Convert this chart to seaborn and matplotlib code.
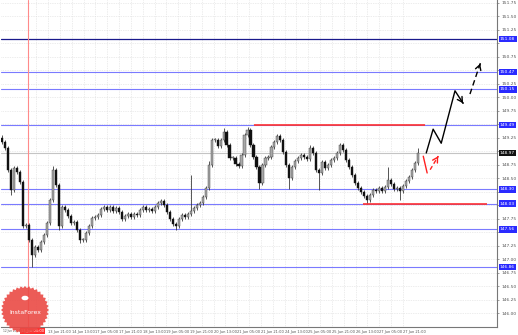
import numpy as np
import pandas as pd
import matplotlib
matplotlib.use("Agg")
import matplotlib.pyplot as plt
import matplotlib.transforms as mtrans
from matplotlib.patches import Polygon, Circle
import seaborn as sns

# ---------------- data ----------------
closes = [149.17, 149.06, 148.66, 148.29, 148.69, 148.62, 148.43, 147.62, 147.64, 147.36,
          147.08, 147.23, 147.18, 147.32, 147.45, 147.67, 148.10, 148.66, 148.38, 147.62,
          147.97, 147.92, 147.80, 147.67, 147.69, 147.55, 147.36, 147.36, 147.49, 147.62,
          147.77, 147.79, 147.82, 147.93, 147.97, 147.92, 147.97, 147.90, 147.95, 147.88,
          147.75, 147.80, 147.84, 147.79, 147.84, 147.82, 147.92, 147.97, 147.92, 147.93,
          147.90, 147.97, 148.04, 148.08, 148.01, 147.88, 147.75, 147.66, 147.62, 147.75,
          147.82, 147.79, 147.84, 147.90, 147.95, 148.01, 148.04, 148.16, 148.32, 148.75,
          149.21, 149.21, 149.10, 149.21, 149.36, 149.12, 148.88, 148.88, 148.77, 148.73,
          148.93, 149.30, 149.40, 149.12, 148.90, 148.71, 148.41, 148.75, 148.88, 148.90,
          149.08, 149.17, 149.28, 149.21, 148.99, 148.75, 148.51, 148.71, 148.82, 148.88,
          148.93, 148.90, 148.86, 149.06, 148.97, 148.66, 148.60, 148.80, 148.69, 148.75,
          148.84, 148.88, 148.97, 149.12, 149.03, 148.84, 148.71, 148.56, 148.41, 148.32,
          148.25, 148.17, 148.10, 148.19, 148.29, 148.27, 148.32, 148.27, 148.34, 148.47,
          148.40, 148.30, 148.32, 148.27, 148.36, 148.45, 148.53, 148.66, 148.78, 148.97]
first_open = 149.25
wick = 0.035
spike_highs = {0: 149.30, 17: 148.73, 63: 148.56, 74: 149.43, 82: 149.45, 92: 149.33,
               113: 149.15, 129: 148.71, 139: 149.06, 69: 148.82, 103: 149.12}
spike_lows = {3: 148.20, 10: 146.86, 19: 147.55, 58: 147.55, 86: 148.30, 96: 148.30,
              106: 148.29, 122: 148.03, 133: 148.10, 26: 147.30}

levels = [151.08, 150.47, 150.15, 149.49, 148.30, 148.03, 147.56, 146.86]
level_labels = ["151.08", "150.47", "150.15", "149.49", "148.30", "148.03", "147.56", "146.86"]

resist_level, resist_span = 149.49, (84.3, 141.3)
support_level, support_span = 148.03, (120.7, 162.0)
vline_x = 8.67

forecast_x = [141.7, 144.0, 146.7, 151.3, 154.0]
forecast_y = [148.97, 149.41, 149.15, 150.12, 149.89]
forecast2_x = [156.3, 160.0]
forecast2_y = [150.06, 150.67]
red_x = [140.7, 142.0]
red_y = [148.91, 148.60]
red2_x = [143.0, 145.7]
red2_y = [148.66, 148.91]

price_ticks = [146.00 + 0.25 * k for k in range(24)]
time_labels = ["13 Jun 21:00", "14 Jun 13:00", "17 Jun 05:00", "17 Jun 21:00", "18 Jun 13:00",
               "19 Jun 05:00", "19 Jun 21:00", "20 Jun 13:00", "21 Jun 05:00", "21 Jun 21:00",
               "24 Jun 13:00", "25 Jun 05:00", "25 Jun 21:00", "26 Jun 13:00", "27 Jun 05:00",
               "27 Jun 21:00"]
time_pos = [15.4 + 7.9 * k for k in range(len(time_labels))]

# ---------------- frame ----------------
n = len(closes)
opens = [first_open] + closes[:-1]
highs = [spike_highs.get(i, max(o, c) + wick) for i, (o, c) in enumerate(zip(opens, closes))]
lows = [spike_lows.get(i, min(o, c) - wick) for i, (o, c) in enumerate(zip(opens, closes))]
df = pd.DataFrame({"i": np.arange(n), "open": opens, "close": closes, "high": highs, "low": lows})

sns.set_style("white")
plt.rcParams["font.family"] = ["DejaVu Sans"]

fig = plt.figure(figsize=(5.18, 3.35), dpi=100)
W, H = 518, 335
ax = fig.add_axes([1 / W, 8 / H, 496 / W, 327 / H])
ax.set_xlim(-0.33, 165.33)
ax.set_ylim(145.75, 151.80)

# grid
for tp in time_pos:
    ax.axvline(tp, color="#dadada", lw=0.5, ls=(0, (1, 1.5)), zorder=0)
    ax.axvline(tp - 3.95, color="#dadada", lw=0.5, ls=(0, (1, 1.5)), zorder=0)
for pt in price_ticks:
    ax.axhline(pt, color="#dadada", lw=0.5, ls=(0, (1, 1.5)), zorder=0)

# level lines
for k, lv in enumerate(levels):
    ax.axhline(lv, color="#1a1a8c" if k == 0 else "#7a7aff", lw=0.9 if k == 0 else 0.8, zorder=1)
ax.axhline(closes[-1], color="#c4c4c4", lw=0.8, zorder=1)
ax.axvline(vline_x, color="#ff8a8a", lw=0.8, zorder=1)

# candles
up = df["close"] >= df["open"]
ax.vlines(df["i"], df["low"], df["high"], color="#3a3a3a", lw=0.6, zorder=3)
ax.bar(df["i"][up], (df["close"] - df["open"])[up].clip(lower=0.012), bottom=df["open"][up],
       width=0.7, color="#a8a8a8", edgecolor="#3a3a3a", lw=0.3, zorder=4)
ax.bar(df["i"][~up], (df["open"] - df["close"])[~up].clip(lower=0.012), bottom=df["close"][~up],
       width=0.7, color="#111111", edgecolor="#111111", lw=0.3, zorder=4)

# red zones
ax.hlines(resist_level, *resist_span, color="#ff3030", lw=1.2, zorder=5)
ax.hlines(support_level, *support_span, color="#ff3030", lw=1.2, zorder=5)

# forecast arrows
sns.lineplot(x=forecast_x, y=forecast_y, ax=ax, color="black", lw=1.0, sort=False, zorder=6)
sns.lineplot(x=forecast2_x, y=forecast2_y, ax=ax, color="black", lw=1.0, sort=False,
             linestyle=(0, (4, 2.5)), zorder=6)
sns.lineplot(x=red_x, y=red_y, ax=ax, color="#ff2020", lw=1.0, sort=False, zorder=6)
sns.lineplot(x=red2_x, y=red2_y, ax=ax, color="#ff2020", lw=1.0, sort=False,
             linestyle=(0, (3, 2)), zorder=6)
for xs, ys, col in [(forecast_x, forecast_y, "black"), (forecast2_x, forecast2_y, "black"),
                    (red2_x, red2_y, "#ff2020")]:
    ax.annotate("", xy=(xs[-1], ys[-1]), xytext=(xs[-2] + 0.8 * (xs[-1] - xs[-2]),
                ys[-2] + 0.8 * (ys[-1] - ys[-2])),
                arrowprops=dict(arrowstyle="->,head_length=0.35,head_width=0.2", color=col, lw=1.0),
                zorder=7)

# axes styling
for s in ["top", "left"]:
    ax.spines[s].set_visible(False)
ax.spines["right"].set_color("#777777")
ax.spines["bottom"].set_color("#777777")
ax.spines["right"].set_linewidth(0.8)
ax.spines["bottom"].set_linewidth(0.8)
ax.yaxis.tick_right()
ax.set_yticks(price_ticks)
covered = levels + [closes[-1]]
ax.set_yticklabels(["" if min(abs(p - c) for c in covered) < 0.09 else f"{p:.2f}" for p in price_ticks])
ax.tick_params(axis="y", labelsize=3.2, colors="#555555", length=1.5, width=0.4, pad=1.5, direction="out")
ax.set_xticks(time_pos)
ax.set_xticklabels(time_labels)
ax.tick_params(axis="x", labelsize=2.6, colors="#555555", length=1.5, width=0.4, pad=0.8)
for lbl in ax.get_xticklabels():
    lbl.set_horizontalalignment("left")
btr = mtrans.blended_transform_factory(ax.transData, ax.transAxes)
ax.text(0.3, -0.006, "12 Jun 2024", transform=btr, fontsize=2.1, color="#555555", va="top", ha="left")
ax.text(vline_x + 1.6, -0.006, "13 Jun 05:00", transform=btr, fontsize=2.6, color="white",
        va="top", ha="center",
        bbox=dict(boxstyle="square,pad=0.2", fc="#ff3030", ec="none"), zorder=10)

# level labels on price scale
tr = mtrans.blended_transform_factory(ax.transAxes, ax.transData)
for lv, lab in zip(levels, level_labels):
    ax.text(1.006, lv, lab, transform=tr, fontsize=3.2, color="white", va="center", ha="left",
            bbox=dict(boxstyle="square,pad=0.3", fc="#2a2aff", ec="none"), clip_on=False, zorder=10)
ax.text(1.006, closes[-1], f"{closes[-1]:.2f}", transform=tr, fontsize=3.2, color="white",
        va="center", ha="left", bbox=dict(boxstyle="square,pad=0.3", fc="#111111", ec="none"),
        clip_on=False, zorder=10)

# logo badge (figure pixel space)
cx, cy, r = 25, 310, 24
ang = np.linspace(0, 2 * np.pi, 73)
rad = np.where(np.arange(73) % 2 == 0, r, r - 2)
px = cx + rad * np.cos(ang)
py = cy + rad * np.sin(ang)
pts = np.column_stack([px / W, 1 - py / H])
logo = Polygon(pts, closed=True, transform=fig.transFigure, fc="#ea4a45", ec="none", alpha=0.9, zorder=8)
fig.patches.append(logo)
fig.patches.append(Circle((cx / W, 1 - 298 / H), 3.5 / W, transform=fig.transFigure,
                          fc="white", ec="none", zorder=9))
fig.text(cx / W, 1 - 313 / H, "InstaForex", color="white", fontsize=4.4, ha="center", va="center", zorder=10)

fig.savefig("out.png", dpi=100)
